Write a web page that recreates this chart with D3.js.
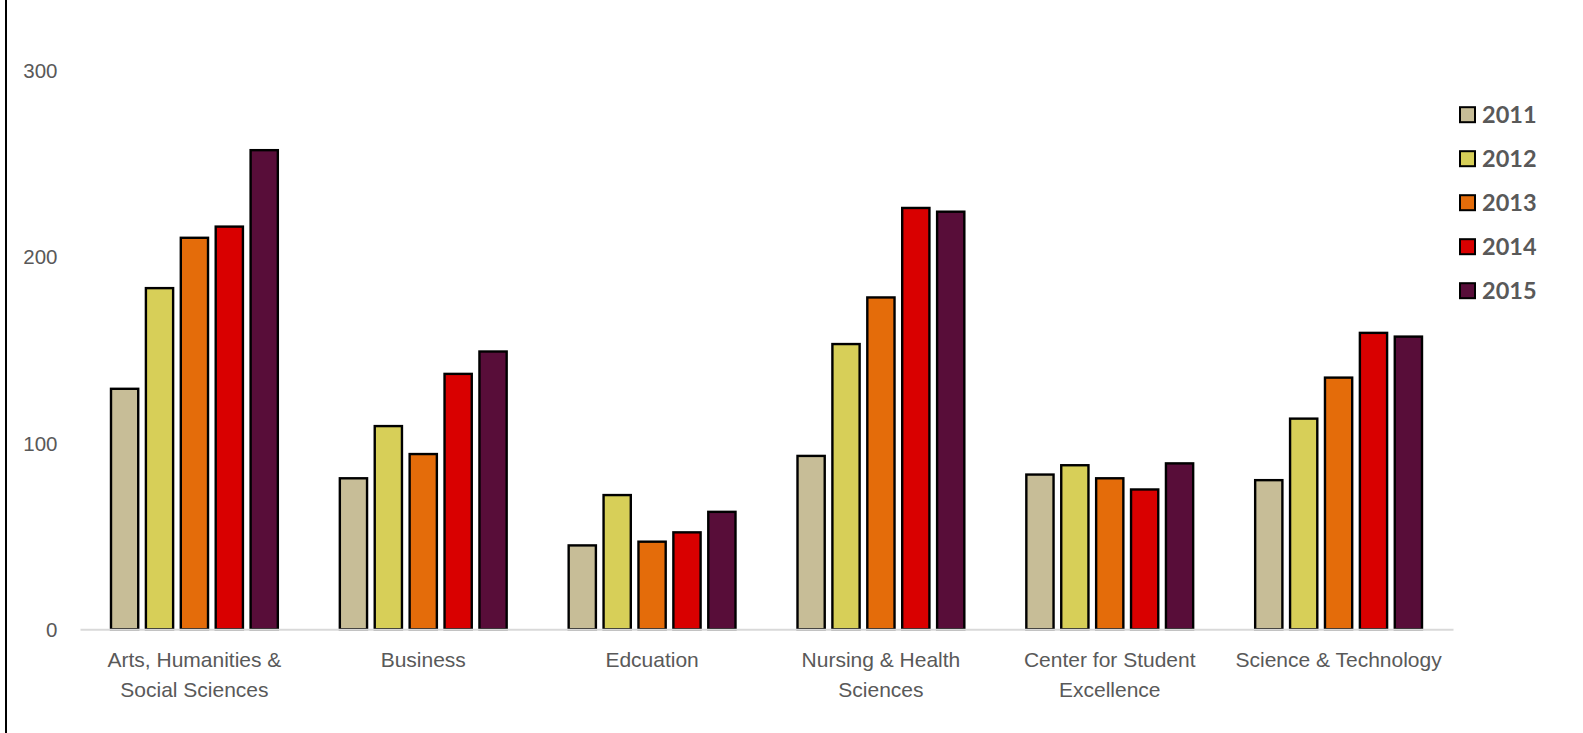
<!DOCTYPE html>
<html lang="en">
  <head>
    <meta charset="UTF-8" />
    <title>Enrollment by College, 2011-2015</title>
    <script src="https://d3js.org/d3.v7.min.js"></script>
    <style>
      body {
        margin: 0;
        background: #fff;
      }
      svg {
        display: block;
        font-family: Lato, 'Noto Sans', sans-serif;
      }
      .axis text {
        fill: #595959;
      }
      .legend text {
        fill: #595959;
        font-weight: bold;
      }
      .bar {
        stroke: #000;
        stroke-width: 2.4px;
      }
    </style>
  </head>
  <body>
    <div id="chart"></div>
    <script>
      // data
      const categories = [
        'Arts, Humanities & Social Sciences',
        'Business',
        'Edcuation',
        'Nursing & Health Sciences',
        'Center for Student Excellence',
        'Science & Technology',
      ];
      const categoryLines = [
        ['Arts, Humanities &', 'Social Sciences'],
        ['Business'],
        ['Edcuation'],
        ['Nursing & Health', 'Sciences'],
        ['Center for Student', 'Excellence'],
        ['Science & Technology'],
      ];
      const years = ['2011', '2012', '2013', '2014', '2015'];
      const values2011 = [129, 81, 45, 93, 83, 80];
      const values2012 = [183, 109, 72, 153, 88, 113];
      const values2013 = [210, 94, 47, 178, 81, 135];
      const values2014 = [216, 137, 52, 226, 75, 159];
      const values2015 = [257, 149, 63, 224, 89, 157];
      const yTicks = [0, 100, 200, 300];

      const series = [values2011, values2012, values2013, values2014, values2015];
      const colors = ['#c7bd97', '#d7cf58', '#e46c0a', '#d90000', '#580d39'];

      const W = 1583,
        H = 733;

      const svg = d3
        .select('#chart')
        .append('svg')
        .attr('width', W)
        .attr('height', H);

      // chart frame edge on the left
      svg
        .append('line')
        .attr('x1', 6)
        .attr('x2', 6)
        .attr('y1', 0)
        .attr('y2', H)
        .attr('stroke', '#000')
        .attr('stroke-width', 2);

      const x0 = d3
        .scaleBand()
        .domain(categories)
        .range([80, 1453]);

      const x1 = d3
        .scaleBand()
        .domain(years)
        .range([31, x0.bandwidth() - 31])
        .paddingInner(0.22);

      const y = d3.scaleLinear().domain([0, 300]).range([629.3, 70]);

      // y axis labels (no line, no gridlines)
      const yAxis = svg
        .append('g')
        .attr('class', 'axis')
        .attr('transform', 'translate(80,0)')
        .call(
          d3
            .axisLeft(y)
            .tickValues(yTicks)
            .tickSize(0)
            .tickPadding(22.5),
        );
      yAxis.select('.domain').remove();
      yAxis
        .selectAll('text')
        .attr('font-size', 20.5)
        .attr('font-family', null)
        .attr('dy', '0.36em');

      // bars
      const groups = svg
        .selectAll('.group')
        .data(categories)
        .enter()
        .append('g')
        .attr('class', 'group')
        .attr('transform', (d) => `translate(${x0(d)},0)`);

      groups
        .selectAll('rect')
        .data((d, i) =>
          years.map((yr, j) => ({ year: yr, value: series[j][i], color: colors[j] })),
        )
        .enter()
        .append('rect')
        .attr('class', 'bar')
        .attr('x', (d) => x1(d.year))
        .attr('width', x1.bandwidth())
        .attr('y', (d) => y(d.value))
        .attr('height', (d) => y(0) - y(d.value))
        .attr('fill', (d) => d.color);

      // x axis baseline and category labels
      const xAxis = svg
        .append('g')
        .attr('class', 'axis')
        .attr('transform', `translate(0,${y(0)})`)
        .call(d3.axisBottom(x0).tickSize(0).tickSizeOuter(0).tickFormat(''));
      xAxis
        .select('.domain')
        .attr('stroke', '#d9d9d9')
        .attr('stroke-width', 2);

      xAxis
        .selectAll('.tick')
        .each(function (d, i) {
          const t = d3.select(this).select('text');
          t.attr('y', 0).attr('dy', null).attr('font-size', 21).attr('font-family', null);
          categoryLines[i].forEach((line, k) => {
            t.append('tspan')
              .attr('x', 0)
              .attr('y', 38 + k * 29.5)
              .text(line);
          });
        });

      // legend
      const legend = svg
        .append('g')
        .attr('class', 'legend')
        .selectAll('g')
        .data(years)
        .enter()
        .append('g')
        .attr('transform', (d, i) => `translate(1460,${114.7 + i * 44})`);

      legend
        .append('rect')
        .attr('x', 0)
        .attr('y', -7.5)
        .attr('width', 15)
        .attr('height', 15)
        .attr('fill', (d, i) => colors[i])
        .attr('stroke', '#000')
        .attr('stroke-width', 2);

      legend
        .append('text')
        .attr('x', 22)
        .attr('y', 8.5)
        .attr('font-size', 23.5)
        .text((d) => d);
    </script>
  </body>
</html>
